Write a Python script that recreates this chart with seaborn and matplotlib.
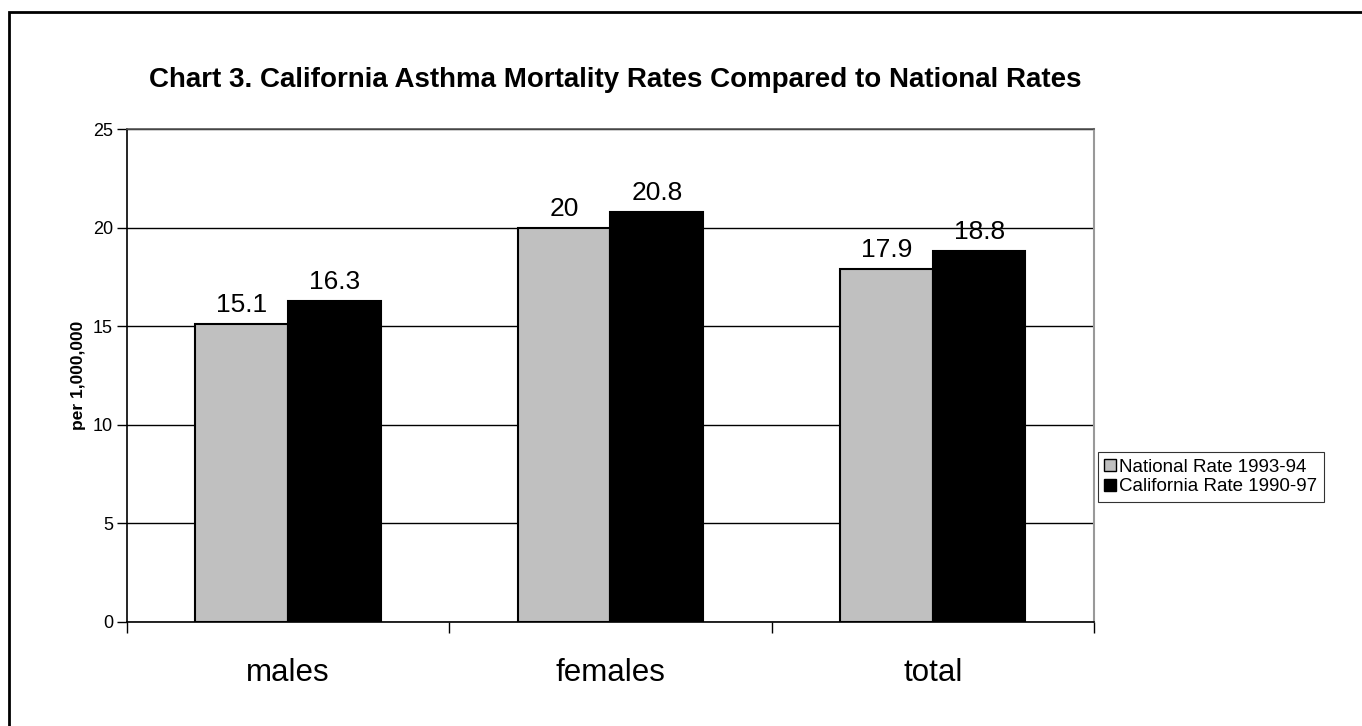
import pandas as pd
import matplotlib
matplotlib.use("Agg")
import matplotlib.pyplot as plt
import matplotlib.patches as mpatches
import seaborn as sns

# data
groups = ["males", "females", "total"]
national = [15.1, 20, 17.9]
california = [16.3, 20.8, 18.8]
series = ["National Rate 1993-94", "California Rate 1990-97"]

df = pd.DataFrame({
    "group": groups * 2,
    "rate": national + california,
    "series": [series[0]] * 3 + [series[1]] * 3,
})

sns.set_style("white")
plt.rcParams["font.family"] = ["Liberation Sans", "DejaVu Sans"]
plt.rcParams["text.color"] = "black"
plt.rcParams["axes.labelcolor"] = "black"
plt.rcParams["xtick.color"] = "black"
plt.rcParams["ytick.color"] = "black"

fig = plt.figure(figsize=(13.62, 7.26), dpi=100)
ax = fig.add_axes([0.0932, 0.1433, 0.71, 0.679])

sns.barplot(data=df, x="group", y="rate", hue="series", hue_order=series,
            palette=["#C0C0C0", "#000000"], width=0.575, edgecolor="black",
            linewidth=1.5, saturation=1, errorbar=None, ax=ax, zorder=3)

for cont in ax.containers:
    ax.bar_label(cont, fmt="%g", padding=5, fontsize=19)

ax.set_ylim(0, 25)
ax.set_yticks([0, 5, 10, 15, 20, 25])
ax.set_xlim(-0.5, 2.5)
ax.yaxis.grid(True, color="black", linewidth=1)
ax.set_axisbelow(True)

# category boundaries as x ticks, labels in the middle
ax.set_xticks([-0.5, 0.5, 1.5, 2.5], minor=False)
ax.set_xticklabels([])
ax.set_xticks([0, 1, 2], minor=True)
ax.set_xticklabels(groups, minor=True, fontsize=22.5)
ax.tick_params(axis="x", which="major", bottom=True, direction="out", length=8, width=1)
ax.tick_params(axis="x", which="minor", bottom=False, length=0, pad=26)
ax.tick_params(axis="y", left=True, direction="out", length=7, width=1, labelsize=13, pad=3)

for s in ["left", "bottom"]:
    ax.spines[s].set_color("black")
    ax.spines[s].set_linewidth(1.2)
ax.spines["top"].set_color("#555555")
ax.spines["top"].set_linewidth(1.2)
ax.spines["right"].set_color("#999999")
ax.spines["right"].set_linewidth(1.5)

ax.set_xlabel("")
ax.set_ylabel("per 1,000,000", fontsize=12.5, fontweight="bold", labelpad=5)

fig.text(0.4515, 0.89, "Chart 3. California Asthma Mortality Rates Compared to National Rates",
         ha="center", va="center", fontsize=20, fontweight="bold")

ax.legend_.remove()
handles = [mpatches.Patch(facecolor=c, edgecolor="black", linewidth=1)
           for c in ["#C0C0C0", "#000000"]]
leg = fig.legend(handles, series, loc="center left", bbox_to_anchor=(0.806, 0.343),
                 fontsize=13.5, frameon=True, fancybox=False, handlelength=0.6,
                 handleheight=0.6, handletextpad=0.2, borderpad=0.35, labelspacing=0.15,
                 borderaxespad=0)
leg.get_frame().set_edgecolor("black")
leg.get_frame().set_linewidth(0.8)

# outer frame (only left and top edges fall inside the image)
frame = mpatches.Rectangle((9 / 1362, -0.2), 1.5, 1 - 12 / 726 + 0.2, transform=fig.transFigure,
                           fill=False, edgecolor="black", linewidth=2)
fig.patches.append(frame)

fig.savefig("out.png", dpi=100)
